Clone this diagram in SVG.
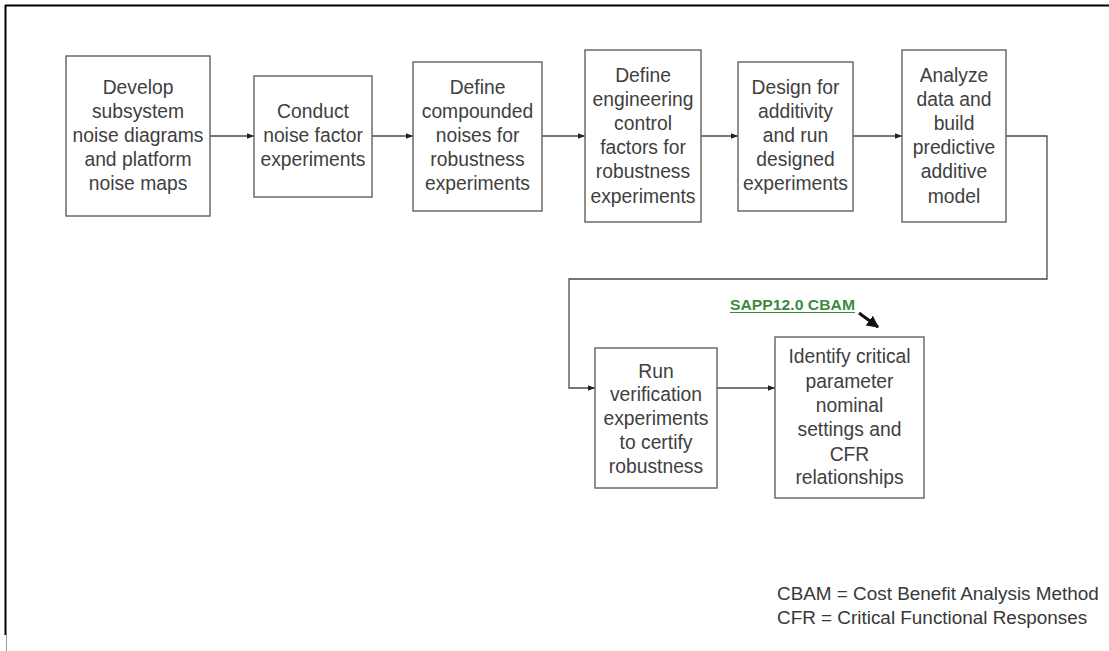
<svg xmlns="http://www.w3.org/2000/svg" width="1109" height="651" viewBox="0 0 1109 651">
  <style>
    .box { fill: #ffffff; stroke: #6b6b6b; stroke-width: 1.5; }
    .lbl { font-family: "Liberation Sans", Arial, sans-serif; font-size: 19.3px; fill: #404040; text-anchor: middle; }
    .wire { fill: none; stroke: #4a4a4a; stroke-width: 1.3; }
    .note { font-family: "Liberation Sans", Arial, sans-serif; font-size: 18.9px; fill: #383838; }
    .tag { font-family: "Liberation Sans", Arial, sans-serif; font-size: 14.5px; font-weight: bold; fill: #3d8a3d; }
  </style>
  <defs>
    <marker id="head" viewBox="0 0 10 10" refX="10" refY="5" markerWidth="7" markerHeight="7" markerUnits="userSpaceOnUse" orient="auto">
      <path d="M0,1 L10,5 L0,9 Z" fill="#222222"/>
    </marker>
    <marker id="boldhead" viewBox="0 0 10 10" refX="9" refY="5" markerWidth="4" markerHeight="4" orient="auto">
      <path d="M0,0 L10,5 L0,10 Z" fill="#111111"/>
    </marker>
  </defs>

  <rect width="1109" height="651" fill="#ffffff"/>

  <!-- page frame -->
  <g id="frame">
    <line x1="5" y1="5.5" x2="1109" y2="5.5" stroke="#000000" stroke-width="2"/>
    <line x1="5.5" y1="5" x2="5.5" y2="635" stroke="#000000" stroke-width="2"/>
    <line x1="6.5" y1="635" x2="6.5" y2="651" stroke="#9a9a9a" stroke-width="1"/>
  </g>

  <!-- connectors -->
  <g id="connectors">
    <line class="wire" x1="210" y1="136" x2="254" y2="136" marker-end="url(#head)"/>
    <line class="wire" x1="372" y1="136" x2="413" y2="136" marker-end="url(#head)"/>
    <line class="wire" x1="542" y1="136" x2="585" y2="136" marker-end="url(#head)"/>
    <line class="wire" x1="701" y1="136" x2="738" y2="136" marker-end="url(#head)"/>
    <line class="wire" x1="853" y1="136" x2="902" y2="136" marker-end="url(#head)"/>
    <polyline class="wire" points="1006,136 1047,136 1047,279 569,279 569,388 595,388" marker-end="url(#head)"/>
    <line class="wire" x1="717" y1="388" x2="775" y2="388" marker-end="url(#head)"/>
  </g>

  <g id="n1">
    <rect class="box" x="66" y="56" width="144" height="160"/>
    <text class="lbl" x="138" y="94">Develop</text>
    <text class="lbl" x="138" y="118">subsystem</text>
    <text class="lbl" x="138" y="142">noise diagrams</text>
    <text class="lbl" x="138" y="166">and platform</text>
    <text class="lbl" x="138" y="190">noise maps</text>
  </g>

  <g id="n2">
    <rect class="box" x="254" y="76" width="118" height="121"/>
    <text class="lbl" x="313" y="118">Conduct</text>
    <text class="lbl" x="313" y="142">noise factor</text>
    <text class="lbl" x="313" y="166">experiments</text>
  </g>

  <g id="n3">
    <rect class="box" x="413" y="62" width="129" height="149"/>
    <text class="lbl" x="477.5" y="94">Define</text>
    <text class="lbl" x="477.5" y="118">compounded</text>
    <text class="lbl" x="477.5" y="142">noises for</text>
    <text class="lbl" x="477.5" y="166">robustness</text>
    <text class="lbl" x="477.5" y="190">experiments</text>
  </g>

  <g id="n4">
    <rect class="box" x="585" y="50" width="116" height="172"/>
    <text class="lbl" x="643" y="82">Define</text>
    <text class="lbl" x="643" y="106">engineering</text>
    <text class="lbl" x="643" y="130">control</text>
    <text class="lbl" x="643" y="154">factors for</text>
    <text class="lbl" x="643" y="178">robustness</text>
    <text class="lbl" x="643" y="203">experiments</text>
  </g>

  <g id="n5">
    <rect class="box" x="738" y="62" width="115" height="149"/>
    <text class="lbl" x="795.5" y="94">Design for</text>
    <text class="lbl" x="795.5" y="118">additivity</text>
    <text class="lbl" x="795.5" y="142">and run</text>
    <text class="lbl" x="795.5" y="166">designed</text>
    <text class="lbl" x="795.5" y="190">experiments</text>
  </g>

  <g id="n6">
    <rect class="box" x="902" y="50" width="104" height="172"/>
    <text class="lbl" x="954" y="82">Analyze</text>
    <text class="lbl" x="954" y="106">data and</text>
    <text class="lbl" x="954" y="130">build</text>
    <text class="lbl" x="954" y="154">predictive</text>
    <text class="lbl" x="954" y="178">additive</text>
    <text class="lbl" x="954" y="203">model</text>
  </g>

  <g id="n7">
    <rect class="box" x="595" y="348" width="122" height="140"/>
    <text class="lbl" x="656" y="378">Run</text>
    <text class="lbl" x="656" y="401">verification</text>
    <text class="lbl" x="656" y="425">experiments</text>
    <text class="lbl" x="656" y="449">to certify</text>
    <text class="lbl" x="656" y="473">robustness</text>
  </g>

  <g id="n8">
    <rect class="box" x="775" y="337" width="149" height="161"/>
    <text class="lbl" x="849.5" y="363">Identify critical</text>
    <text class="lbl" x="849.5" y="388">parameter</text>
    <text class="lbl" x="849.5" y="412">nominal</text>
    <text class="lbl" x="849.5" y="436">settings and</text>
    <text class="lbl" x="849.5" y="461">CFR</text>
    <text class="lbl" x="849.5" y="484">relationships</text>
  </g>

  <!-- hyperlink callout pointing at the last step -->
  <g id="link-tag">
    <text class="tag" x="730" y="310" textLength="125" lengthAdjust="spacingAndGlyphs">SAPP12.0 CBAM</text>
    <line x1="730" y1="312.5" x2="855" y2="312.5" stroke="#3d8a3d" stroke-width="1.2"/>
    <line x1="859" y1="313" x2="878" y2="327" stroke="#111111" stroke-width="3" marker-end="url(#boldhead)"/>
  </g>

  <g id="legend">
    <text class="note" x="777" y="600">CBAM = Cost Benefit Analysis Method</text>
    <text class="note" x="777" y="624">CFR = Critical Functional Responses</text>
  </g>
</svg>
